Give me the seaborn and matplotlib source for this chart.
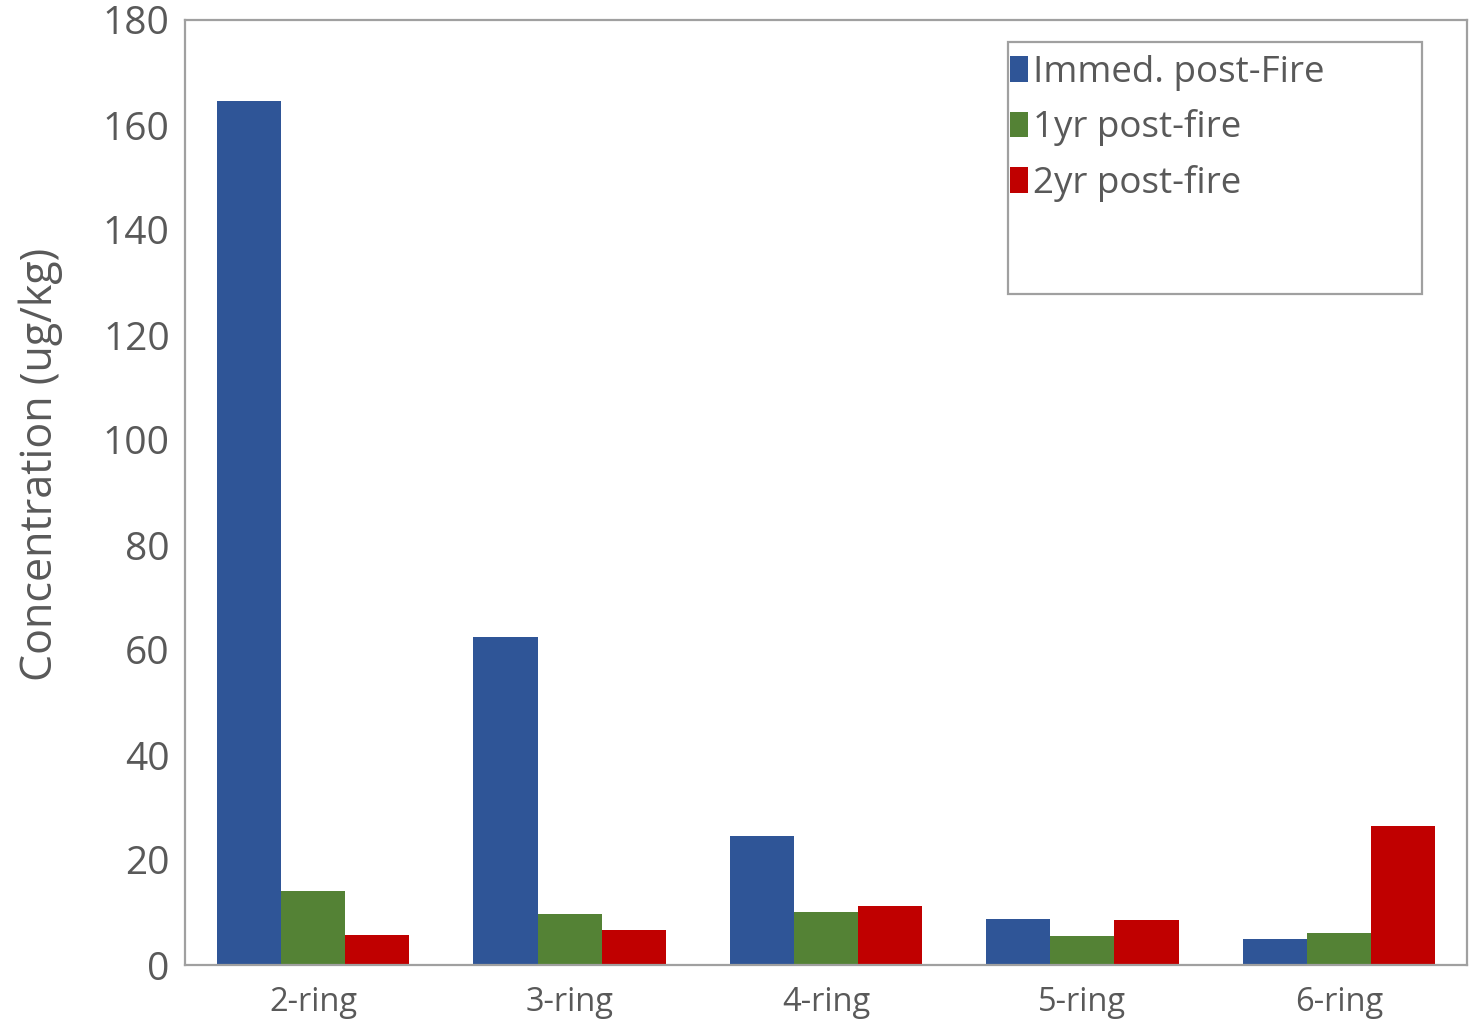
import matplotlib
matplotlib.use("Agg")
import matplotlib.pyplot as plt
from matplotlib.patches import Rectangle
import seaborn as sns
import pandas as pd

# PAH concentrations by ring number and sampling period
rings = ["2-ring", "3-ring", "4-ring", "5-ring", "6-ring"]
periods = ["Immed. post-Fire", "1yr post-fire", "2yr post-fire"]
immed_post_fire = [164.5, 62.4, 24.6, 8.8, 5.0]
one_yr_post_fire = [14.1, 9.7, 10.1, 5.5, 6.1]
two_yr_post_fire = [5.7, 6.7, 11.3, 8.6, 26.5]
colors = ["#2F5597", "#548235", "#C00000"]
yticks = list(range(0, 181, 20))

rows = []
for period, vals in zip(periods, [immed_post_fire, one_yr_post_fire, two_yr_post_fire]):
    for ring, v in zip(rings, vals):
        rows.append({"ring": ring, "period": period, "conc": v})
df = pd.DataFrame(rows)

sns.set_style("white")
plt.rcParams["font.family"] = ["Open Sans", "DejaVu Sans"]
text_grey = "#595959"

fig = plt.figure(figsize=(14.81, 10.21), dpi=100)
ax = fig.add_axes([185 / 1481, 1 - 965 / 1021, (1467 - 185) / 1481, (965 - 20) / 1021])

sns.barplot(data=df, x="ring", y="conc", hue="period", hue_order=periods,
            palette=colors, saturation=1, errorbar=None, width=0.75,
            linewidth=0, ax=ax)

ax.set_ylim(0, 180)
ax.set_xlim(-0.5, len(rings) - 0.5)
ax.set_yticks(yticks)
ax.set_yticklabels([str(t) for t in yticks], fontsize=28, color=text_grey)
ax.set_xticks(range(len(rings)))
ax.set_xticklabels(rings, fontsize=23.5, color=text_grey)
ax.tick_params(axis="both", length=0)
ax.tick_params(axis="y", pad=11)
ax.tick_params(axis="x", pad=15)
ax.set_xlabel("")
ax.set_ylabel("Concentration (ug/kg)", fontsize=31, color=text_grey)
ax.yaxis.set_label_coords(-0.095, 0.53)

for side in ["left", "right", "top", "bottom"]:
    ax.spines[side].set_visible(True)
    ax.spines[side].set_color("#A0A0A0")
    ax.spines[side].set_linewidth(1.6)

# legend with its own tall frame
leg = ax.legend(loc="upper left", bbox_to_anchor=((1010 - 185) / (1467 - 185), (965 - 55) / (965 - 20)),
                frameon=False, fontsize=26.5, handlelength=0.5, handleheight=0.7,
                handletextpad=0.12, labelspacing=0.5, borderpad=0.0, borderaxespad=0.0)
for t in leg.get_texts():
    t.set_color(text_grey)
fig.patches.append(Rectangle((1008 / 1481, 1 - 294 / 1021), (1422 - 1008) / 1481, (294 - 42) / 1021,
                             transform=fig.transFigure, fill=False, edgecolor="#A0A0A0",
                             linewidth=1.6, zorder=5))

fig.savefig("out.png", dpi=100)
